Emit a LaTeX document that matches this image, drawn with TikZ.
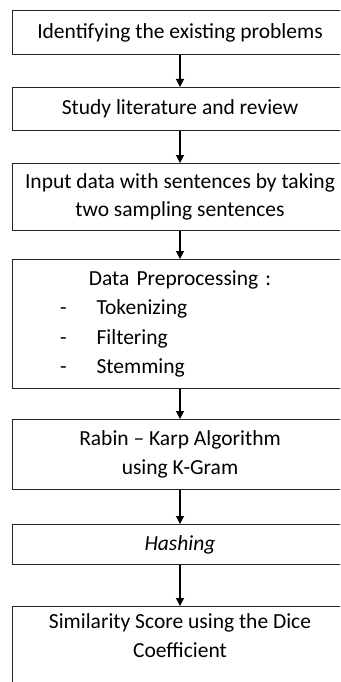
\documentclass[tikz,border=0pt]{standalone}
\usepackage{fontspec}
\setmainfont{Carlito}
\usetikzlibrary{positioning,arrows.meta}
\setlength{\parindent}{0pt}

\tikzset{
  stage/.style={draw=black!85, line width=1.2pt, minimum width=335pt, align=center,
    inner sep=4pt, font=\fontsize{21.5}{28.5}\selectfont},
  flow/.style={line width=1.1pt, -{Triangle[length=8pt,width=8pt]}}
}

\begin{document}
\begin{tikzpicture}[x=1pt,y=-1pt]
  \useasboundingbox (0,0) rectangle (340,682);
  \clip (0,0) rectangle (340,682);

  \node[stage, minimum height=43.8pt, anchor=north] (problem) at (180,10) {Identifying the existing problems};
  \node[stage, minimum height=42.8pt, below=32pt of problem] (study) {Study literature and review};
  \node[stage, minimum height=66.8pt, below=32pt of study] (input) {Input data with sentences by taking\\two sampling sentences};

  % preprocessing box with the list
  \node[stage, minimum height=128.8pt, text width=310pt, align=left, below=28pt of input,
        font=\fontsize{21.5}{29.3}\selectfont] (prep) {%
    \makebox[310pt][c]{Data Preprocessing :}\par
    \hspace*{35pt}-\hspace{30pt}Tokenizing\par
    \hspace*{35pt}-\hspace{30pt}Filtering\par
    \hspace*{35pt}-\hspace{30pt}Stemming};

  \node[stage, minimum height=69.8pt, below=30pt of prep] (rabin) {Rabin -- Karp Algorithm\\using K-Gram};
  \node[stage, minimum height=39.8pt, below=34pt of rabin] (hash) {\textit{Hashing}};
  \node[stage, inner ysep=7pt, text depth=60pt, below=41pt of hash] (dice) {Similarity Score using the Dice\\Coefficient};

  \draw[flow] (problem) -- (study);
  \draw[flow] (study) -- (input);
  \draw[flow] (input) -- (prep);
  \draw[flow] (prep) -- (rabin);
  \draw[flow] (rabin) -- (hash);
  \draw[flow] (hash) -- (dice);
\end{tikzpicture}
\end{document}
